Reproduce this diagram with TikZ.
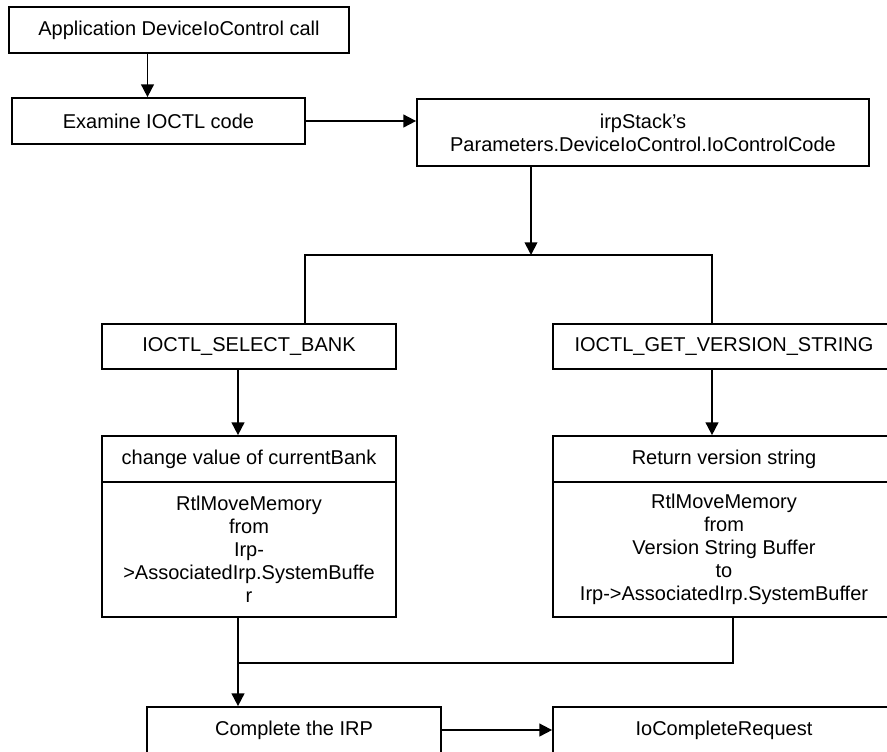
\documentclass[tikz,border=0pt]{standalone}
\usepackage{fontspec}
\setmainfont{Liberation Sans}
\usetikzlibrary{arrows.meta}

\tikzset{
  box/.style={draw, line width=1.3pt, align=center, inner sep=2pt,
    minimum height=34.5pt, font=\fontsize{15}{17.25}\selectfont},
  arr/.style={-{Triangle[length=9.5pt,width=9.5pt]}, line width=1.3pt},
  ln/.style={line width=1.3pt}
}

\begin{document}
\begin{tikzpicture}[x=0.75pt,y=-0.75pt]
\useasboundingbox (0,0) rectangle (887,751);
\clip (0,0) rectangle (887,751);
% top part
\node[box, minimum width=255pt] (app) at (179,30) {Application DeviceIoControl call};
\node[box, minimum width=219.75pt] (exam) at (158.5,121) {Examine IOCTL code};
\node[box, minimum width=339pt, minimum height=50.25pt] (irp) at (643,132.5)
  {irpStack’s\\Parameters.DeviceIoControl.IoControlCode};
% the two codes
\node[box, minimum width=220.5pt, minimum height=33.75pt] (sel) at (249,346.5) {IOCTL\_SELECT\_BANK};
\node[box, minimum width=256.5pt, minimum height=33.75pt] (ver) at (724,346.5) {IOCTL\_GET\_VERSION\_STRING};
\node[box, minimum width=220.5pt] (chg) at (249,459) {change value of currentBank};
\node[box, minimum width=220.5pt, minimum height=101.25pt] (chgb) at (249,549.5)
  {RtlMoveMemory\\from\\Irp-\\>AssociatedIrp.SystemBuffe\\r};
\node[box, minimum width=256.5pt] (ret) at (724,459) {Return version string};
\node[box, minimum width=256.5pt, minimum height=101.25pt] (retb) at (724,549.5)
  {RtlMoveMemory\\from\\Version String Buffer\\to\\Irp->AssociatedIrp.SystemBuffer};
% completion
\node[box, minimum width=220.5pt] (cmp) at (294,730) {Complete the IRP};
\node[box, minimum width=256.5pt] (ioc) at (724,730) {IoCompleteRequest};

\coordinate (fork) at (531,255);
\coordinate (forkL) at (305,255);
\coordinate (forkR) at (712,255);
\coordinate (join) at (238,663);
\coordinate (joinR) at (733,663);

\draw[arr] ([xshift=-8.25pt]exam.north |- app.south) -- ([xshift=-8.25pt]exam.north);
\draw[arr] (exam.east) -- (exam.east -| irp.west);
\draw[arr] (irp.south -| fork) -- (fork);
\draw[ln] (sel.north -| forkL) -- (forkL) -- (forkR) -- (ver.north -| forkR);
\draw[arr] ([xshift=-8.25pt]sel.south) -- ([xshift=-8.25pt]chg.north);
\draw[arr] ([xshift=-9pt]ver.south) -- ([xshift=-9pt]ret.north);
\draw[arr] (chgb.south -| join) -- (cmp.north -| join);
\draw[ln] (retb.south -| joinR) -- (joinR) -- (join);
\draw[arr] (cmp.east) -- (ioc.west);
\end{tikzpicture}
\end{document}
